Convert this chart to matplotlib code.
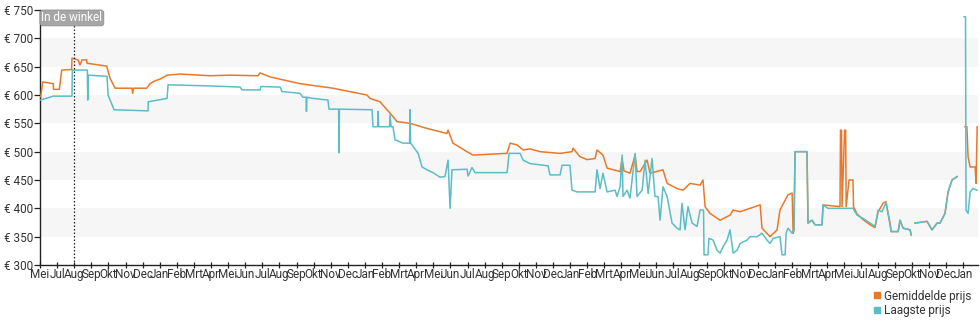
import matplotlib
matplotlib.use("Agg")
import numpy as np
import matplotlib.pyplot as plt
from matplotlib.lines import Line2D

# month labels on the x axis (one per tick, as shown)
month_labels = ["Mei", "Jul", "Aug", "Sep", "Okt", "Nov", "Dec", "Jan", "Feb", "Mrt", "Apr",
                "Mei", "Jun", "Jul", "Aug", "Sep", "Okt", "Nov", "Dec", "Jan", "Feb", "Mrt", "Apr",
                "Mei", "Jun", "Jul", "Aug", "Sep", "Okt", "Nov", "Dec", "Jan", "Feb", "Mrt", "Apr",
                "Mei", "Jun", "Jul", "Aug", "Sep", "Okt", "Nov", "Dec", "Jan", "Feb", "Mrt", "Apr",
                "Mei", "Jul", "Aug", "Sep", "Okt", "Nov", "Dec", "Jan"]

y_ticks = [300, 350, 400, 450, 500, 550, 600, 650, 700, 750]
in_store_x = 2  # "In de winkel" marker at Aug

# Gemiddelde prijs (x = position in months along the axis)
avg_x = [0.04, 0.16, 0.78, 0.79, 1.13, 1.27, 1.85, 1.87, 2.22, 2.34, 2.46, 2.73, 2.75, 3.90,
         4.09, 4.39, 5.38, 5.42, 5.47, 6.24, 6.43, 6.73, 7.02, 7.43, 8.19, 9.94, 11.11, 12.75,
         12.87, 13.45, 15.20, 17.13, 19.12, 19.30, 19.88, 20.64, 20.88, 21.64, 22.63, 23.80,
         23.86, 24.15, 24.97, 25.32, 27.31, 27.49, 27.89, 28.25, 28.65, 29.24, 30.41, 31.11,
         31.17, 31.58, 31.99, 32.46, 32.57, 32.92, 33.16, 33.92, 34.04, 34.15, 34.50, 34.80,
         34.91, 35.09, 35.50, 35.67, 36.43, 36.67, 37.25, 37.60, 38.01, 38.60, 38.77, 38.89,
         39.18, 39.77, 40.35, 40.53, 40.94, 41.52, 42.11, 42.22, 42.69, 43.10, 43.27, 43.74,
         43.98, 44.04, 44.09, 44.15, 44.85, 44.91, 45.15, 45.32, 45.73, 45.79, 46.78, 46.81,
         46.87, 46.90, 47.05, 47.11, 47.14, 47.31, 47.54, 47.57, 47.78, 48.13, 48.54, 48.83,
         49.01, 49.30, 49.47, 49.59, 49.71, 49.77, 50.18, 50.29, 50.47, 50.88, 50.94, 51.0,
         51.17, 51.87, 52.16, 52.46, 52.63, 52.92, 53.10, 53.33, 53.63, 53.8, 54.09, 54.20,
         54.27, 54.39, 54.68, 54.74, 54.80]
avg_price = [597, 623, 620, 610, 610, 644, 645, 665, 662, 653, 662, 662, 656, 651,
             630, 612, 612, 603, 612, 612, 620, 625, 628, 635, 637, 634, 635, 634,
             639, 632, 620, 612, 600, 594, 588, 562, 553, 550, 541, 532,
             538, 515, 500, 494, 497, 515, 512, 503, 505, 500, 497, 500,
             506, 491, 486, 488, 503, 494, 471, 465, 488, 466, 462, 494,
             465, 465, 485, 462, 468, 444, 435, 432, 444, 441, 450, 403,
             391, 379, 388, 397, 394, 400, 406, 365, 350, 362, 397, 424,
             427, 356, 362, 500, 500, 374, 379, 371, 371, 406, 403, 538,
             538, 403, 538, 538, 403, 450, 450, 403, 390, 380, 371, 366,
             394, 409, 412, 391, 374, 359, 359, 379, 365, 362, 353, np.nan,
             374, 377, 362, 374, 374, 391, 429, 450, 456, np.nan, 544, 544,
             491, 473, 473, 444, 544]

# Laagste prijs
low_x = [0.0, 0.58, 0.76, 1.87, 1.89, 2.77, 2.79, 2.82, 3.92, 3.98, 4.33, 6.32, 6.33, 7.43,
         7.49, 9.94, 11.70, 11.81, 12.87, 12.92, 14.04, 14.15, 15.20, 15.38, 15.56, 15.58,
         15.61, 15.96, 16.84, 16.90, 17.46, 17.49, 17.51, 19.42, 19.47, 19.74, 19.77, 19.80,
         20.44, 20.47, 20.53, 20.64, 20.76, 21.23, 21.61, 21.64, 21.67, 21.75, 22.11, 22.34,
         22.63, 22.98, 23.39, 23.68, 23.86, 23.98, 24.09, 24.97, 25.03, 25.26, 25.44, 27.31,
         27.43, 28.07, 28.25, 28.65, 29.71, 29.82, 30.41, 30.53, 30.99, 31.11, 31.40, 32.46,
         32.57, 32.75, 32.92, 33.16, 33.63, 33.74, 33.92, 34.04, 34.09, 34.33, 34.50, 34.80,
         34.91, 35.21, 35.38, 35.56, 35.79, 35.96, 36.14, 36.26, 36.43, 36.67, 36.96, 37.25,
         37.43, 37.54, 37.72, 37.89, 38.13, 38.42, 38.60, 38.80, 38.83, 39.06, 39.12, 39.36,
         39.59, 39.77, 39.94, 40.18, 40.35, 40.53, 40.76, 40.94, 41.35, 41.52, 41.93, 42.22,
         42.51, 42.69, 42.87, 43.27, 43.39, 43.57, 43.63, 43.74, 43.98, 44.09, 44.15, 44.85,
         44.91, 45.15, 45.32, 45.73, 45.79, 46.08, 47.54, 47.78, 48.13, 48.54, 48.83, 49.01,
         49.24, 49.47, 49.59, 49.77, 50.18, 50.29, 50.47, 50.88, 50.94, 51.0, 51.17, 51.87,
         52.16, 52.46, 52.63, 52.92, 53.10, 53.33, 53.63, 53.8, 54.04, 54.12, 54.15, 54.27,
         54.39, 54.56, 54.80]
low_price = [591, 596, 598, 598, 644, 644, 591, 635, 633, 600, 574, 572, 588, 594,
             618, 616, 614, 609, 609, 615, 614, 606, 603, 596, 596, 571,
             596, 594, 591, 575, 575, 498, 575, 574, 544, 544, 571, 544,
             544, 565, 544, 544, 521, 515, 515, 574, 515, 512, 497, 473,
             468, 463, 455, 456, 485, 400, 468, 469, 457, 472, 463, 463,
             497, 497, 485, 479, 475, 459, 459, 476, 476, 432, 429, 429,
             468, 435, 462, 429, 432, 421, 438, 494, 421, 432, 418, 497,
             421, 432, 485, 426, 488, 421, 421, 379, 438, 421, 374, 365,
             362, 409, 362, 403, 374, 368, 397, 397, 318, 318, 347, 344,
             326, 321, 332, 344, 362, 321, 326, 338, 344, 350, 350, 356,
             344, 338, 347, 350, 318, 318, 356, 365, 356, 362, 500, 500,
             374, 379, 371, 371, 406, 400, 400, 388, 382, 374, 368, 397,
             394, 410, 391, 359, 359, 379, 365, 362, 353, np.nan, 374, 377,
             362, 374, 374, 391, 429, 450, 456, np.nan, 738, 738, 397, 391,
             429, 435, 432]

avg_color = "#e8792b"
low_color = "#5bbdc5"
text_color = "#333333"

plt.rcParams["font.family"] = ["Roboto", "DejaVu Sans"]

fig = plt.figure(figsize=(9.8, 3.25), dpi=100)
ax = fig.add_axes([40 / 980, 1 - 265 / 325, 938 / 980, 255 / 325])

# alternating light bands
for lo in (350, 450, 550, 650):
    ax.axhspan(lo, lo + 50, color="#f6f6f6", lw=0, zorder=0)

ax.plot(avg_x, avg_price, color=avg_color, lw=1.1, zorder=3)
ax.plot(low_x, low_price, color=low_color, lw=1.1, zorder=4)

ax.axvline(in_store_x, color="#222222", lw=0.9, ls=(0, (1.2, 1.6)), zorder=5)
ax.text(0.08, 736, "In de winkel", color="white", fontsize=8.5, va="center", ha="left",
        bbox=dict(boxstyle="round,pad=0.12,rounding_size=0.25", fc="#a6a6a6", ec="#8f8f8f", lw=0.6),
        zorder=6)

ax.set_xlim(0, 54.85)
ax.set_ylim(300, 750)
ax.set_yticks(y_ticks)
ax.set_yticklabels([f"€ {v}" for v in y_ticks])
ax.set_xticks(range(len(month_labels)))
ax.set_xticklabels(month_labels)

for s in ("top", "right"):
    ax.spines[s].set_visible(False)
for s in ("left", "bottom"):
    ax.spines[s].set_color("#222222")
    ax.spines[s].set_linewidth(1.0)
ax.tick_params(axis="y", direction="out", length=4, width=0.9, color="#222222",
               labelsize=8.5, labelcolor=text_color, pad=1)
ax.tick_params(axis="x", direction="inout", length=5, width=0.9, color="#222222",
               labelsize=8.5, labelcolor=text_color, pad=0)

handles = [Line2D([], [], ls="", marker="s", markersize=5, color=avg_color),
           Line2D([], [], ls="", marker="s", markersize=5, color=low_color)]
fig.legend(handles, ["Gemiddelde prijs", "Laagste prijs"], loc="lower right",
           bbox_to_anchor=(1.0, 0.0), frameon=False, fontsize=8.5, handlelength=0.6,
           handletextpad=0.3, labelspacing=0.1, borderaxespad=0.3, labelcolor=text_color)

fig.savefig("out.png", dpi=100)
